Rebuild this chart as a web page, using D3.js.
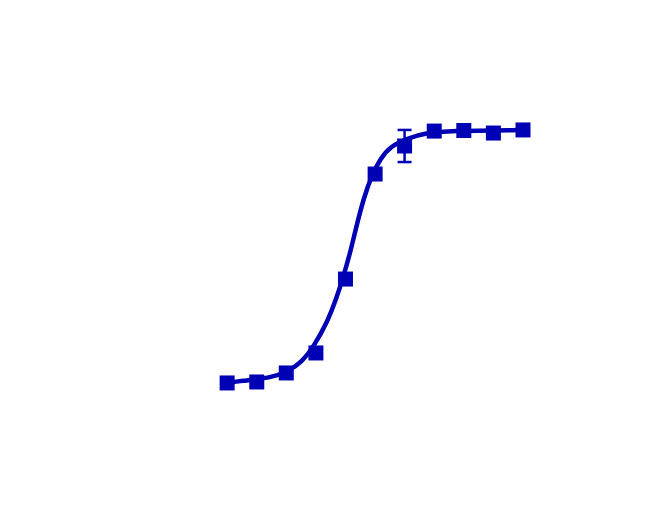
<!DOCTYPE html>
<html>
<head>
<meta charset="utf-8">
<script src="https://cdn.jsdelivr.net/npm/d3@7"></script>
<style>
  body { margin: 0; background: #fff; }
  text { font-family: "Liberation Sans", Arial, sans-serif; font-weight: bold; }
</style>
</head>
<body>
<div id="chart"></div>
<script>
// 3-fold dilution series, g/ml
var conc = [1.69e-11, 5.08e-11, 1.52e-10, 4.57e-10, 1.37e-9, 4.12e-9, 1.23e-8, 3.70e-8, 1.11e-7, 3.33e-7, 1e-6];
var rlu  = [12100, 12800, 19200, 33400, 85900, 160500, 180400, 191000, 191400, 189600, 191800];
var err  = [0, 0, 0, 0, 0, 0, 11400, 0, 0, 0, 0];

// fitted curve (log10 conc, value)
var fitLog = [-10.77, -10.56, -10.07, -9.78, -9.57, -9.38, -9.14, -9.02, -8.90, -8.78, -8.70, -8.57, -8.43, -8.30, -8.14, -7.85, -7.57, -7.20, -6.00];
var fitVal = [12070, 13500, 15600, 20500, 27000, 37500, 56800, 71000, 87000, 106000, 121000, 143500, 160500, 171400, 180200, 186100, 189600, 191200, 191700];

var yTicks = [0, 50000, 100000, 150000, 200000, 250000];
var xExps = [-12, -11, -10, -9, -8, -7, -6, -5];
var xTitle = "BMP4 g/ml";
var yTitle = "RLU";

var W = 650, H = 512;
var blue = "#0000b4";

var svg = d3.select("#chart").append("svg")
    .attr("width", W)
    .attr("height", H);

svg.append("rect").attr("width", W).attr("height", H).attr("fill", "#fff");

var x = d3.scaleLog().domain([1e-12, 1e-5]).range([151, 585]);
var y = d3.scaleLinear().domain([0, 250000]).range([400, 48]);

// axes (white, like the reference)
var yAxis = svg.append("g")
    .attr("transform", "translate(150,0)")
    .call(d3.axisLeft(y).tickValues(yTicks).tickFormat(d3.format("d")).tickSize(0).tickPadding(10));
yAxis.select(".domain").attr("stroke", "#fff");
yAxis.selectAll("text").attr("fill", "#fff").style("font-size", "20px");

var xAxis = svg.append("g")
    .attr("transform", "translate(0,410)")
    .call(d3.axisBottom(x).tickValues(xExps.map(function(e){ return Math.pow(10, e); })).tickFormat("").tickSize(0));
xAxis.select(".domain").attr("stroke", "#fff");

var xl = svg.append("g").selectAll("text")
    .data(xExps)
    .enter().append("text")
    .attr("x", function(d){ return x(Math.pow(10, d)); })
    .attr("y", 440)
    .attr("text-anchor", "middle")
    .attr("fill", "#fff")
    .style("font-size", "20px");
xl.append("tspan").text("10");
xl.append("tspan").attr("dy", -9).style("font-size", "13px").text(function(d){ return d; });

svg.append("text")
    .attr("x", 362).attr("y", 476)
    .attr("text-anchor", "middle")
    .attr("fill", "#fff")
    .style("font-size", "20px")
    .text(xTitle);

svg.append("text")
    .attr("transform", "translate(42,220) rotate(-90)")
    .attr("text-anchor", "middle")
    .attr("fill", "#fff")
    .style("font-size", "20px")
    .text(yTitle);

// fit line
var fit = fitLog.map(function(l, i){ return {c: Math.pow(10, l), v: fitVal[i]}; });
var line = d3.line()
    .x(function(d){ return x(d.c); })
    .y(function(d){ return y(d.v); })
    .curve(d3.curveBasis);

svg.append("path")
    .datum(fit)
    .attr("d", line)
    .attr("fill", "none")
    .attr("stroke", blue)
    .attr("stroke-width", 4.5);

var pts = conc.map(function(c, i){ return {c: c, v: rlu[i], e: err[i]}; });

// error bars
var eb = svg.append("g").selectAll("g")
    .data(pts.filter(function(d){ return d.e > 0; }))
    .enter().append("g")
    .attr("stroke", blue)
    .attr("stroke-width", 2.5);
eb.append("line")
    .attr("x1", function(d){ return x(d.c); }).attr("x2", function(d){ return x(d.c); })
    .attr("y1", function(d){ return y(d.v + d.e); }).attr("y2", function(d){ return y(d.v - d.e); });
eb.append("line")
    .attr("x1", function(d){ return x(d.c) - 7; }).attr("x2", function(d){ return x(d.c) + 7; })
    .attr("y1", function(d){ return y(d.v + d.e); }).attr("y2", function(d){ return y(d.v + d.e); });
eb.append("line")
    .attr("x1", function(d){ return x(d.c) - 7; }).attr("x2", function(d){ return x(d.c) + 7; })
    .attr("y1", function(d){ return y(d.v - d.e); }).attr("y2", function(d){ return y(d.v - d.e); });

// square markers
svg.append("g").selectAll("rect")
    .data(pts)
    .enter().append("rect")
    .attr("x", function(d){ return x(d.c) - 7.5; })
    .attr("y", function(d){ return y(d.v) - 7.5; })
    .attr("width", 15)
    .attr("height", 15)
    .attr("fill", blue);
</script>
</body>
</html>
